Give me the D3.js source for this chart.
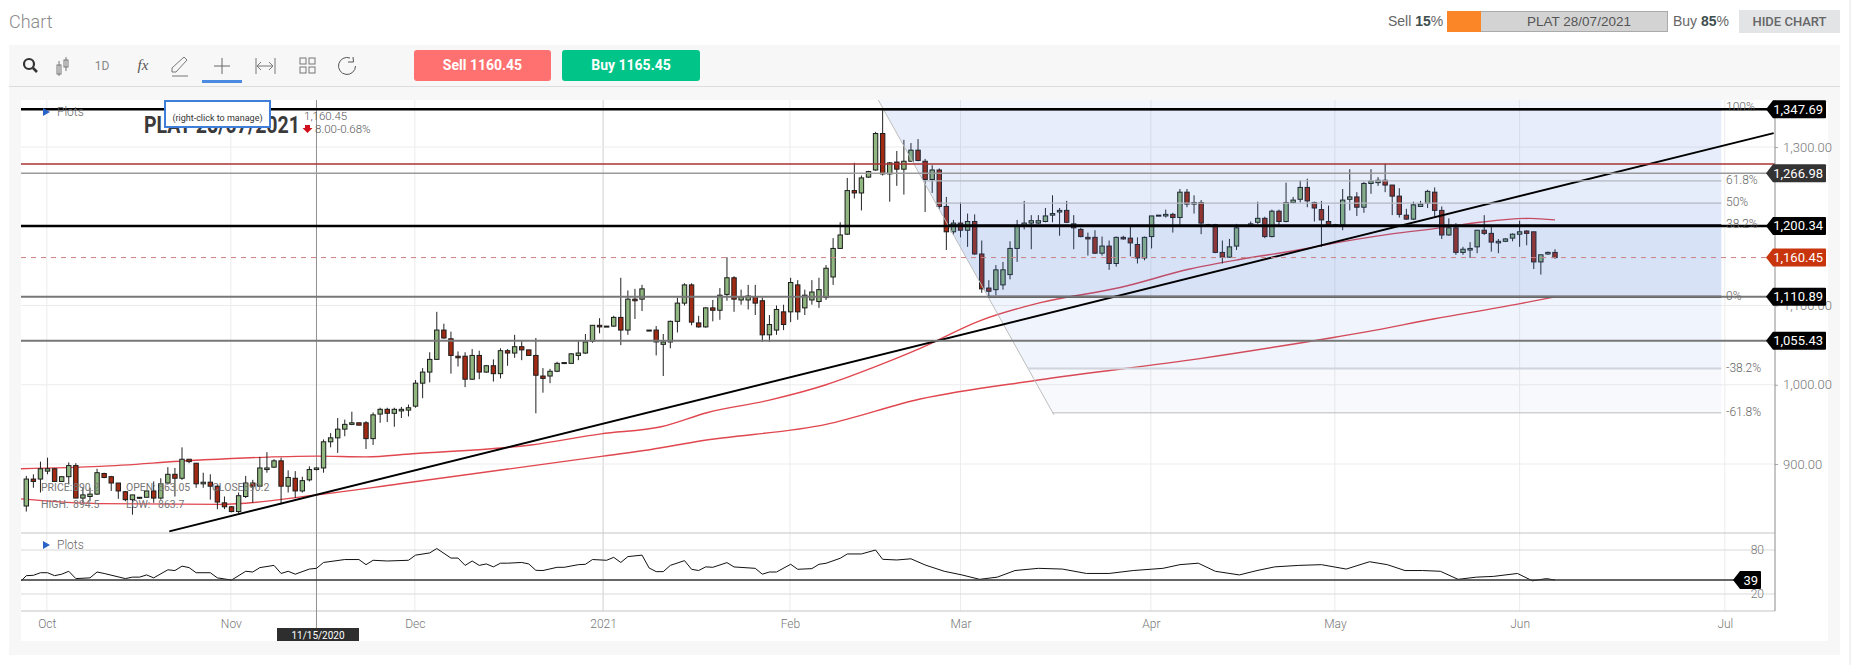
<!DOCTYPE html>
<html>
<head>
<meta charset="utf-8">
<title>Chart</title>
<script src="https://cdn.jsdelivr.net/npm/d3@7"></script>
<style>
  html, body { margin: 0; padding: 0; background: #fff; overflow: hidden; }
  text { font-family: Roboto, "Liberation Sans", sans-serif; }
</style>
</head>
<body>
<div id="chart"></div>
<script>
// Candle values, one entry per session.
const opens = [
  847,881,881,891,894,878,884,898,857,859, 862,888,884,876,865,855,857,858,866,857,
  876,887,882,906,901,875,877,872,851,846, 840,859,876,872,893,896,904,872,882,866,
  880,893,895,928,933,944,950,952,952,932, 963,969,964,967,968,973,1002,1016,1032,1069,
  1058,1036,1036,1007,1037,1016,1024,1014,1043,1040, 1048,1044,1037,1011,1011,1017,1027,1027,1037,1040,
  1055,1075,1073,1074,1085,1069,1108,1108,1069,1069, 1051,1054,1080,1103,1126,1078,1073,1097,1094,1114,
  1135,1107,1107,1111,1106,1063,1069,1092,1092,1126, 1097,1107,1105,1110,1136,1172,1190,1245,1242,1262,
  1271,1317,1266,1281,1272,1282,1296,1282,1259,1271, 1225,1193,1204,1195,1206,1165,1122,1120,1126,1139,
  1172,1201,1204,1204,1206,1214,1218,1220,1203,1196, 1186,1186,1166,1175,1153,1186,1185,1177,1160,1187,
  1213,1213,1215,1211,1243,1228,1230,1202,1202,1167, 1161,1175,1201,1201,1205,1210,1187,1219,1206,1230,
  1234,1249,1230,1221,1206,1200,1202,1234,1237,1224, 1254,1255,1258,1252,1238,1214,1209,1225,1229,1243,
  1220,1189,1198,1167,1170,1174,1195,1191,1179,1181, 1185,1190,1194,1193,1155,1165,1167
];
const highs = [
  885,887,903,908,895,884,902,901,870,870, 894,889,885,876,866,861,858,866,878,882,
  896,895,921,906,901,889,887,874,859,847, 864,885,880,909,915,906,908,892,891,884,
  897,896,931,939,958,956,966,952,954,965, 971,971,971,972,975,1006,1021,1041,1092,1077,
  1067,1042,1041,1045,1043,1025,1032,1046,1045,1063, 1056,1044,1059,1021,1020,1029,1028,1040,1055,1064,
  1075,1084,1074,1087,1135,1119,1121,1126,1069,1074, 1064,1081,1110,1128,1128,1087,1098,1107,1122,1161,
  1137,1120,1126,1126,1110,1088,1100,1101,1135,1132, 1120,1132,1135,1151,1185,1205,1261,1280,1264,1270,
  1319,1347,1281,1295,1309,1305,1310,1285,1277,1273, 1237,1208,1230,1216,1215,1182,1132,1151,1155,1181,
  1208,1232,1214,1214,1223,1239,1223,1232,1214,1198, 1192,1195,1187,1182,1187,1188,1199,1186,1187,1213,
  1214,1221,1217,1247,1247,1239,1233,1203,1203,1182, 1184,1203,1201,1206,1231,1212,1221,1221,1255,1237,
  1258,1260,1231,1232,1226,1203,1247,1272,1243,1256, 1272,1262,1279,1252,1248,1222,1231,1232,1246,1249,
  1225,1210,1204,1174,1180,1195,1214,1199,1184,1185, 1191,1207,1195,1193,1164,1168,1171
];
const lows = [
  840,870,864,887,878,878,874,857,851,853, 861,882,866,856,853,836,856,858,851,855,
  874,859,880,901,870,870,855,843,843,839, 838,857,851,872,889,895,849,864,857,864,
  878,892,889,921,914,935,949,949,919,924, 952,953,947,958,960,971,983,1003,1032,1058,
  1014,1023,997,1006,1007,1015,1004,1008,1024,1034, 1031,1037,964,990,1002,1016,1027,1027,1031,1039,
  1053,1065,1073,1073,1050,1063,1083,1093,1068,1037, 1011,1046,1066,1100,1075,1072,1072,1080,1082,1106,
  1092,1101,1095,1088,1054,1054,1063,1069,1079,1082, 1088,1101,1097,1107,1126,1172,1189,1235,1220,1261,
  1270,1264,1231,1251,1240,1282,1282,1218,1242,1222, 1170,1189,1186,1174,1164,1116,1112,1113,1120,1133,
  1155,1196,1171,1203,1205,1205,1188,1204,1171,1186, 1163,1165,1163,1145,1149,1183,1162,1153,1157,1172,
  1213,1211,1192,1200,1224,1216,1190,1199,1166,1153, 1160,1170,1200,1200,1203,1185,1186,1200,1205,1229,
  1230,1224,1206,1174,1200,1199,1195,1220,1213,1217, 1241,1251,1243,1214,1211,1208,1208,1225,1223,1212,
  1184,1188,1164,1164,1160,1166,1189,1168,1166,1180, 1181,1174,1176,1146,1139,1164,1159
];
const closes = [
  881,878,894,894,878,884,898,857,861,862, 889,883,876,866,855,861,858,866,857,875,
  887,882,906,903,875,877,872,852,846,840, 860,876,872,895,895,904,872,883,866,879,
  893,895,928,933,944,950,952,949,932,962, 969,964,969,969,971,1002,1016,1032,1069,1059,
  1037,1034,1007,1037,1016,1024,1014,1043,1040,1048, 1044,1037,1012,1008,1017,1027,1028,1039,1040,1054,
  1075,1073,1074,1085,1069,1108,1106,1121,1069,1054, 1054,1080,1103,1126,1079,1073,1097,1094,1113,1135,
  1108,1111,1112,1103,1063,1076,1095,1076,1129,1092, 1113,1117,1120,1147,1172,1189,1245,1242,1261,1269,
  1317,1266,1280,1272,1282,1296,1283,1259,1271,1225, 1193,1204,1195,1206,1165,1121,1118,1145,1145,1172,
  1201,1204,1207,1207,1213,1216,1220,1205,1198,1187, 1184,1166,1175,1153,1186,1184,1179,1160,1186,1213,
  1214,1215,1211,1243,1228,1230,1204,1200,1167,1161, 1174,1198,1201,1203,1210,1187,1219,1206,1230,1233,
  1249,1232,1223,1208,1202,1202,1233,1237,1224,1254, 1257,1258,1252,1238,1215,1209,1227,1228,1244,1220,
  1189,1198,1167,1171,1172,1195,1191,1180,1181,1184, 1190,1193,1191,1155,1164,1167,1160.45
];

// Moving averages, as session index / price pairs.
const maFastIdx = [-0.75,10.4,24.5,41,48,54.6,71.3,81.2,89.7,96.3,104.7,113,119.7,126.3,134.8,143,154.7,164.4,171.4,179.7,183.2,192.7,199.8,205.4,212.5,216];
const maFastVal = [894,897,905,910,909,913,924,938,947,965,980,1000,1022,1046,1081,1103,1123,1146,1158,1170,1176,1190,1198,1205,1210,1208];
const maSlowIdx = [-0.75,10.4,27.4,41,52.8,81.5,88.1,95.2,113,126.3,143,165.8,184.9,189.5,198.8,210.9,216];
const maSlowVal = [856,850,849,861,875,910,918,929,950,982,1006,1033,1060,1067,1083,1102,1111];

// Oscillator in the lower pane.
const rsiIdx = [-0.7,0,1,2,3,4,5,6,7,9,10,11,14,15,16,17,18,20,21,22,23,24,26,27,29,31,32,33,35,36,37,38,40,41,42,45,47,48,49,51,54,55,57,58,60,61,62,63,64,65,66,67,68,70,71,72,73,75,76,78,79,80,82,83,84,85,87,88,89,90,91,93,94,95,96,97,99,100,103,104,105,106,108,109,111,112,113,115,116,118,120,121,123,125,127,129.7,132.2,134.7,137.2,139.7,143,146.4,149.8,153,156.4,160.6,163,165.6,168,171.4,173.9,176.4,179.8,183,186.5,189.8,192.3,194.8,197.3,199.8,202.3,204.9,207.3,210.7,212.8,214.8,216];
const rsiVal = [38,45,45.5,49,49,45,47,51,41,42,50,48,41,43,43,46,42,53,52,58,56,49,49,42,39,51,50,56,59,48,51,47,54,55,63,67,67,60,66,65,66,73,76,82,69,69,59,65,59,61,57,62,62,63,61,52.3,52,56.4,56.4,60,60.5,67,66,70,63,71,73,55.5,50.5,50.5,59,65.5,53.7,52,57,56.4,62.8,56.9,55,47,50,50,60.5,53.7,54.6,60.5,61.9,68.7,74.6,74.6,80,67.3,66.4,68,59.6,51,46,40,43,52,55,54,48,48,52,55,60,62,51,46,52,57,59,60,54,64,60,52,52,51,40,43,44,48,38,41,39];

// Straight lines drawn on the chart.
const trendIdx = [20.2, 246.9];
const trendVal = [815, 1317.6];
const levelValues = [1347.69, 1278.6, 1266.98, 1200.34, 1160.45, 1110.89, 1055.43];
const tagValues = [1347.69, 1266.98, 1200.34, 1160.45, 1110.89, 1055.43];

// Fibonacci retracement drawing.
const fibHigh = 1347.69;
const fibLow = 1110.89;
const fibLevels = [1, 0.618, 0.5, 0.382, 0, -0.382, -0.618];
const fibLabels = ["100%", "61.8%", "50%", "38.2%", "0%", "-38.2%", "-61.8%"];
const fibSlopeIdx = [120.3, 145.2];
const fibSlopeVal = [1360.5, 962];
const fibRightIdx = 239.5;

// Axis labels.
const monthTicks = [2.9, 28.9, 54.9, 81.5, 107.9, 132, 158.9, 184.9, 211, 240];
const monthLabels = ["Oct", "Nov", "Dec", "2021", "Feb", "Mar", "Apr", "May", "Jun", "Jul"];
const priceTicks = [1300, 1100, 1000, 900];
const rsiTicks = [80, 20];
const rsiLast = 39;
const crosshairIdx = 41;
const crosshairDate = "11/15/2020";

const W = 1851, H = 665;
const plot = {left: 21, right: 1775, top: 100, mainBottom: 533, rsiBottom: 611, bottom: 641, outer: 1828};

const x = d3.scaleLinear().domain([0, 216]).range([26.3, 1555]);
const y = d3.scaleLinear().domain([1300, 900]).range([147, 464]);
const yRsi = d3.scaleLinear().domain([80, 20]).range([550, 594]);

const svg = d3.select("#chart").append("svg")
    .attr("width", W)
    .attr("height", H)
    .style("display", "block");

svg.append("defs").append("clipPath").attr("id", "mainClip")
    .append("rect")
    .attr("x", plot.left).attr("y", plot.top)
    .attr("width", plot.right - plot.left).attr("height", plot.mainBottom - plot.top);

drawFrame();
drawToolbar();
drawGrid();

const main = svg.append("g").attr("clip-path", "url(#mainClip)");
drawMovingAverages();
drawCandles();
drawFibZone();
drawLevels();
drawTrendLine();
drawFibLines();

drawOverlayText();
drawRsi();
drawAxes();
drawTags();
drawHeader();

/**
 * Page title, grey panel and white plot area.
 */
function drawFrame() {
    svg.append("rect").attr("x", 9).attr("y", 45).attr("width", 1831).attr("height", 610).attr("fill", "#f7f7f7");
    svg.append("rect").attr("x", plot.left).attr("y", plot.top)
        .attr("width", plot.outer - plot.left).attr("height", plot.bottom - plot.top)
        .attr("fill", "#fff");
    svg.append("line").attr("x1", 9).attr("x2", 1840).attr("y1", 86.5).attr("y2", 86.5).attr("stroke", "#dddddd");
    svg.append("line").attr("x1", 1850).attr("x2", 1850).attr("y1", 0).attr("y2", 665).attr("stroke", "#e4e4e4");
    svg.append("text").text("Chart").attr("x", 9).attr("y", 28)
        .attr("font-size", 18).attr("font-weight", 300).attr("fill", "#8a8a8a");
}

/**
 * Sentiment bar and button in the top right corner.
 */
function drawHeader() {
    const font = "'Liberation Sans', Arial, sans-serif";
    const g = svg.append("g").attr("font-size", 14).attr("fill", "#666");
    const sell = g.append("text").attr("x", 1388).attr("y", 26).style("font-family", font);
    sell.append("tspan").text("Sell ");
    sell.append("tspan").text("15").attr("font-weight", 700).attr("fill", "#3f4f4f");
    sell.append("tspan").text("%");
    g.append("rect").attr("x", 1447.5).attr("y", 11.5).attr("width", 220).attr("height", 20)
        .attr("fill", "#d3d3d3").attr("stroke", "#aaa");
    g.append("rect").attr("x", 1447).attr("y", 11).attr("width", 34).attr("height", 21).attr("fill", "#fb8628");
    g.append("text").text("PLAT 28/07/2021").attr("x", 1579).attr("y", 26)
        .attr("text-anchor", "middle").attr("font-size", 13.5).attr("fill", "#555").style("font-family", font);
    const buy = g.append("text").attr("x", 1673).attr("y", 26).style("font-family", font);
    buy.append("tspan").text("Buy ");
    buy.append("tspan").text("85").attr("font-weight", 700).attr("fill", "#3f4f4f");
    buy.append("tspan").text("%");
    g.append("rect").attr("x", 1739).attr("y", 10).attr("width", 101).attr("height", 23).attr("fill", "#e2e4e6");
    g.append("text").text("HIDE CHART").attr("x", 1789.5).attr("y", 26)
        .attr("text-anchor", "middle").attr("font-size", 13).attr("font-weight", 500).attr("fill", "#666");
}

/**
 * Toolbar icons and the two trade buttons.
 */
function drawToolbar() {
    const g = svg.append("g").attr("fill", "none").attr("stroke", "#777").attr("stroke-width", 1);
    // Magnifier
    g.append("circle").attr("cx", 29).attr("cy", 64).attr("r", 5).attr("stroke", "#333").attr("stroke-width", 2.2);
    g.append("line").attr("x1", 33).attr("y1", 68).attr("x2", 37).attr("y2", 72).attr("stroke", "#333").attr("stroke-width", 2.5);
    // Candles
    g.append("rect").attr("x", 57).attr("y", 65).attr("width", 4).attr("height", 9);
    g.append("line").attr("x1", 59).attr("x2", 59).attr("y1", 61).attr("y2", 76);
    g.append("rect").attr("x", 64).attr("y", 60).attr("width", 4).attr("height", 7);
    g.append("line").attr("x1", 66).attr("x2", 66).attr("y1", 57).attr("y2", 71);
    g.append("text").text("1D").attr("x", 102).attr("y", 70).attr("text-anchor", "middle")
        .attr("font-size", 12).attr("fill", "#888").attr("stroke", "none");
    g.append("text").text("fx").attr("x", 143).attr("y", 70).attr("text-anchor", "middle")
        .attr("font-size", 15).attr("font-style", "italic").attr("fill", "#555").attr("stroke", "none")
        .style("font-family", "'Liberation Serif', serif");
    // Pencil
    g.append("path").attr("d", "M172 72 L172 68 L184 57 L187 60 L176 72 Z M172 76 H188");
    // Crosshair and its underline
    g.append("path").attr("d", "M222 58 V74 M214 66 H230").attr("stroke", "#666");
    g.append("rect").attr("x", 202).attr("y", 80).attr("width", 40).attr("height", 3).attr("fill", "#4a8ae0").attr("stroke", "none");
    // Measure
    g.append("path").attr("d", "M256 58 V74 M275 58 V74 M258 66 H273 M261 62 L257 66 L261 70 M269 62 L273 66 L269 70");
    // Grid
    [[300, 58], [309, 58], [300, 67], [309, 67]].forEach(function(p) {
        g.append("rect").attr("x", p[0]).attr("y", p[1]).attr("width", 6).attr("height", 6);
    });
    // Refresh
    g.append("path").attr("d", "M350 58 A8.5 8.5 0 1 0 355.5 66 M353 57 L353.5 62 L348 62").attr("stroke", "#555");

    svg.append("rect").attr("x", 414).attr("y", 50).attr("width", 137).attr("height", 31).attr("rx", 3).attr("fill", "#ff7070");
    svg.append("text").text("Sell 1160.45").attr("x", 482.5).attr("y", 70).attr("text-anchor", "middle")
        .attr("font-size", 14).attr("font-weight", 700).attr("fill", "#fff");
    svg.append("rect").attr("x", 562).attr("y", 50).attr("width", 138).attr("height", 31).attr("rx", 3).attr("fill", "#00c488");
    svg.append("text").text("Buy 1165.45").attr("x", 631).attr("y", 70).attr("text-anchor", "middle")
        .attr("font-size", 14).attr("font-weight", 700).attr("fill", "#fff");
}

/**
 * Gridlines for both panes, plus the crosshair.
 */
function drawGrid() {
    const g = svg.append("g");
    g.selectAll("line.month").data(monthTicks).enter().append("line")
        .attr("class", "month")
        .attr("x1", d => x(d)).attr("x2", d => x(d))
        .attr("y1", plot.top).attr("y2", plot.rsiBottom)
        .attr("stroke", (d, i) => monthLabels[i] === "2021" ? "#cfcfcf" : "#ececec");
    g.selectAll("line.price").data(priceTicks).enter().append("line")
        .attr("class", "price")
        .attr("x1", plot.left).attr("x2", plot.right)
        .attr("y1", d => y(d)).attr("y2", d => y(d))
        .attr("stroke", "#ececec");
    g.selectAll("line.rsi").data(rsiTicks).enter().append("line")
        .attr("class", "rsi")
        .attr("x1", plot.left).attr("x2", plot.right)
        .attr("y1", d => yRsi(d)).attr("y2", d => yRsi(d))
        .attr("stroke", "#d9d9d9");
    [plot.mainBottom, plot.rsiBottom].forEach(function(v) {
        g.append("line").attr("x1", plot.left).attr("x2", plot.right)
            .attr("y1", v).attr("y2", v).attr("stroke", "#c4c4c4");
    });
    g.append("line")
        .attr("x1", x(crosshairIdx)).attr("x2", x(crosshairIdx))
        .attr("y1", plot.top).attr("y2", 628)
        .attr("stroke", "#909090");
}

/**
 * Two red moving averages behind the candles.
 */
function drawMovingAverages() {
    [[maFastIdx, maFastVal], [maSlowIdx, maSlowVal]].forEach(function(s) {
        const line = d3.line()
            .x((d, i) => x(s[0][i]))
            .y(d => y(d))
            .curve(d3.curveMonotoneX);
        main.append("path")
            .attr("d", line(s[1]))
            .attr("fill", "none")
            .attr("stroke", "#e0474f")
            .attr("stroke-width", 1.4);
    });
}

/**
 * One wick and one body for each session.
 */
function drawCandles() {
    const candles = main.selectAll("g.candle").data(opens).enter().append("g").attr("class", "candle");
    candles.append("line")
        .attr("x1", (d, i) => x(i)).attr("x2", (d, i) => x(i))
        .attr("y1", (d, i) => y(highs[i])).attr("y2", (d, i) => y(lows[i]))
        .attr("stroke", "#222");
    candles.append("rect")
        .attr("x", (d, i) => x(i) - 2.2)
        .attr("width", 4.4)
        .attr("y", (d, i) => y(Math.max(d, closes[i])))
        .attr("height", (d, i) => Math.max(1, Math.abs(y(d) - y(closes[i]))))
        .attr("fill", (d, i) => closes[i] >= d ? "#8fb77f" : "#a32a12")
        .attr("stroke", "#1c1c1c");
}

/**
 * Price of a retracement level between the high and the low.
 */
function fibPrice(level) {
    return fibLow + level * (fibHigh - fibLow);
}

/**
 * Blue tinted bands of the retracement, laid over the candles.
 */
function drawFibZone() {
    const edge = d3.scaleLinear().domain(fibSlopeVal).range(fibSlopeIdx);
    const edges = [fibSlopeVal[0]].concat(fibLevels.map(fibPrice));
    const tint = [0.06, 0.12, 0.135, 0.155, 0.2, 0.08, 0.045];
    const band = d3.line().x(d => x(d[0])).y(d => y(d[1]));
    d3.pairs(edges).forEach(function(p, i) {
        main.append("path")
            .attr("d", band([[edge(p[0]), p[0]], [fibRightIdx, p[0]], [fibRightIdx, p[1]], [edge(p[1]), p[1]]]) + "Z")
            .attr("fill", "rgb(60,110,215)")
            .attr("opacity", tint[i]);
    });
    main.append("path")
        .attr("d", band([[fibSlopeIdx[0], fibSlopeVal[0]], [fibSlopeIdx[1], fibSlopeVal[1]]]))
        .attr("fill", "none")
        .attr("stroke", "#bdbdbd");
}

/**
 * Thin level lines of the retracement and its labels.
 */
function drawFibLines() {
    const edge = d3.scaleLinear().domain(fibSlopeVal).range(fibSlopeIdx);
    const colors = ["#10141f", "#b4b8c0", "#b4b8c0", "#10141f", "#000", "#d0d4dc", "#bcbcbc"];
    const widths = [2, 1.2, 1.2, 2, 2, 2, 1];
    fibLevels.forEach(function(level, i) {
        const p = fibPrice(level);
        main.append("line")
            .attr("x1", x(edge(p))).attr("x2", x(fibRightIdx))
            .attr("y1", y(p)).attr("y2", y(p))
            .attr("stroke", colors[i])
            .attr("stroke-width", widths[i]);
        svg.append("text").text(fibLabels[i])
            .attr("x", 1726).attr("y", y(p) + (level === 1 ? 2 : 3))
            .attr("font-size", 12).attr("font-weight", 300).attr("fill", "#666");
    });
}

/**
 * Horizontal support and resistance lines.
 */
function drawLevels() {
    const colors = ["#000", "#a83232", "#9a9a9a", "#000", "#c98080", "#777", "#777"];
    const widths = [2.4, 1.6, 1.5, 2.4, 1, 2, 2];
    svg.selectAll("line.level").data(levelValues).enter().append("line")
        .attr("class", "level")
        .attr("x1", plot.left).attr("x2", plot.right)
        .attr("y1", d => y(d)).attr("y2", d => y(d))
        .attr("stroke", (d, i) => colors[i])
        .attr("stroke-width", (d, i) => widths[i])
        .attr("stroke-dasharray", d => d === 1160.45 ? "5,5" : null);
}

/**
 * Long rising trend line.
 */
function drawTrendLine() {
    main.append("path")
        .attr("d", d3.line().x((d, i) => x(trendIdx[i])).y(d => y(d))(trendVal))
        .attr("fill", "none")
        .attr("stroke", "#000")
        .attr("stroke-width", 1.9);
}

/**
 * Instrument title, tooltip and the small read-outs over the candles.
 */
function drawOverlayText() {
    svg.append("text").text("PLAT 28/07/2021").attr("x", 144).attr("y", 133)
        .attr("font-size", 23).attr("font-weight", 700).attr("fill", "#3a3a3a")
        .attr("textLength", 156).attr("lengthAdjust", "spacingAndGlyphs");
    svg.append("rect").attr("x", 165).attr("y", 101).attr("width", 105).attr("height", 26)
        .attr("fill", "#fff").attr("stroke", "#3f7fd9").attr("stroke-width", 2);
    svg.append("text").text("(right-click to manage)").attr("x", 217.5).attr("y", 121)
        .attr("text-anchor", "middle").attr("font-size", 9).attr("fill", "#333");
    svg.append("text").text("1,160.45").attr("x", 304).attr("y", 120)
        .attr("font-size", 11.5).attr("font-weight", 300).attr("fill", "#555");
    svg.append("path").attr("d", "M305 125 h5 v3 h2.5 l-5 5 l-5 -5 h2.5 z").attr("fill", "#d0101c");
    svg.append("text").text("8.00-0.68%").attr("x", 315).attr("y", 133)
        .attr("font-size", 11.5).attr("font-weight", 300).attr("fill", "#555");

    const plotsY = [112, 545];
    plotsY.forEach(function(v) {
        svg.append("path").attr("d", "M43 " + (v - 4) + " L50 " + v + " L43 " + (v + 4) + " Z").attr("fill", "#2b62c8");
        svg.append("text").text("Plots").attr("x", 57).attr("y", v + 4)
            .attr("font-size", 12).attr("font-weight", 300).attr("fill", "#666");
    });

    const readout = svg.append("g").attr("font-size", 10.5).attr("fill", "#777");
    [["PRICE:", 41, 491], ["890.2", 73, 491], ["OPEN:", 126, 491], ["863.05", 158, 491], ["CLOSE:", 212, 491], ["890.2", 243, 491],
     ["HIGH:", 41, 508], ["894.5", 73, 508], ["LOW:", 126, 508], ["863.7", 158, 508]].forEach(function(t) {
        readout.append("text").text(t[0]).attr("x", t[1]).attr("y", t[2]);
    });
}

/**
 * Oscillator line and its last-value level.
 */
function drawRsi() {
    const line = d3.line().x((d, i) => x(rsiIdx[i])).y(d => yRsi(d));
    svg.append("path")
        .attr("d", line(rsiVal))
        .attr("fill", "none")
        .attr("stroke", "#111")
        .attr("stroke-width", 1);
    svg.append("line")
        .attr("x1", plot.left).attr("x2", 1740)
        .attr("y1", yRsi(rsiLast)).attr("y2", yRsi(rsiLast))
        .attr("stroke", "#333")
        .attr("stroke-width", 1.6);
}

/**
 * Date axis, price axis and the oscillator labels.
 */
function drawAxes() {
    const bottom = svg.append("g")
        .attr("transform", "translate(0," + plot.rsiBottom + ")")
        .call(d3.axisBottom(x).tickValues(monthTicks).tickSize(0).tickPadding(8)
            .tickFormat((d, i) => monthLabels[i]));
    bottom.select(".domain").remove();
    bottom.selectAll("text").attr("font-size", 12).attr("font-weight", 300).attr("fill", "#777")
        .style("font-family", "Roboto, sans-serif");

    const right = svg.append("g")
        .attr("transform", "translate(" + plot.right + ",0)")
        .call(d3.axisRight(y).tickValues(priceTicks).tickSize(3).tickPadding(5)
            .tickFormat(d3.format(",.2f")));
    right.select(".domain").remove();
    right.selectAll("line").attr("stroke", "#aaa");
    right.selectAll("text").attr("font-size", 13).attr("font-weight", 300).attr("fill", "#777")
        .style("font-family", "Roboto, sans-serif");
    svg.append("line").attr("x1", plot.right).attr("x2", plot.right)
        .attr("y1", plot.top).attr("y2", plot.rsiBottom).attr("stroke", "#8c8c8c");

    const left = svg.append("g")
        .attr("transform", "translate(1764,0)")
        .call(d3.axisLeft(yRsi).tickValues(rsiTicks).tickSize(0).tickPadding(0));
    left.select(".domain").remove();
    left.selectAll("text").attr("font-size", 12).attr("font-weight", 300).attr("fill", "#777")
        .style("font-family", "Roboto, sans-serif");

    // Crosshair date box sits on the axis
    svg.append("rect").attr("x", 277).attr("y", 628).attr("width", 82).attr("height", 13).attr("fill", "#2e2e2e");
    svg.append("text").text(crosshairDate).attr("x", 318).attr("y", 638.5)
        .attr("text-anchor", "middle").attr("font-size", 10).attr("fill", "#fff");
}

/**
 * Draws one price tag with a pointer on its left side.
 */
function priceTag(value, text, px, py, width, fill) {
    const h = 18;
    const path = d3.path();
    path.moveTo(px, py);
    path.lineTo(px + 7, py - h / 2);
    path.lineTo(px + width - 1, py - h / 2);
    path.quadraticCurveTo(px + width, py - h / 2, px + width, py - h / 2 + 1);
    path.lineTo(px + width, py + h / 2 - 1);
    path.quadraticCurveTo(px + width, py + h / 2, px + width - 1, py + h / 2);
    path.lineTo(px + 7, py + h / 2);
    path.closePath();
    svg.append("path").attr("d", path.toString()).attr("fill", fill);
    svg.append("text").text(text)
        .attr("x", px + width - 3).attr("y", py + 4.5)
        .attr("text-anchor", "end").attr("font-size", 13).attr("fill", "#fff");
}

/**
 * Value tags on the price axis and the oscillator.
 */
function drawTags() {
    const fmt = d3.format(",.2f");
    tagValues.forEach(function(v) {
        const fill = v === 1160.45 ? "#c8340c" : (v === 1266.98 ? "#333" : "#000");
        priceTag(v, fmt(v), 1766, y(v), 60, fill);
    });
    priceTag(rsiLast, String(rsiLast), 1733, yRsi(rsiLast), 28, "#000");
}
</script>
</body>
</html>
